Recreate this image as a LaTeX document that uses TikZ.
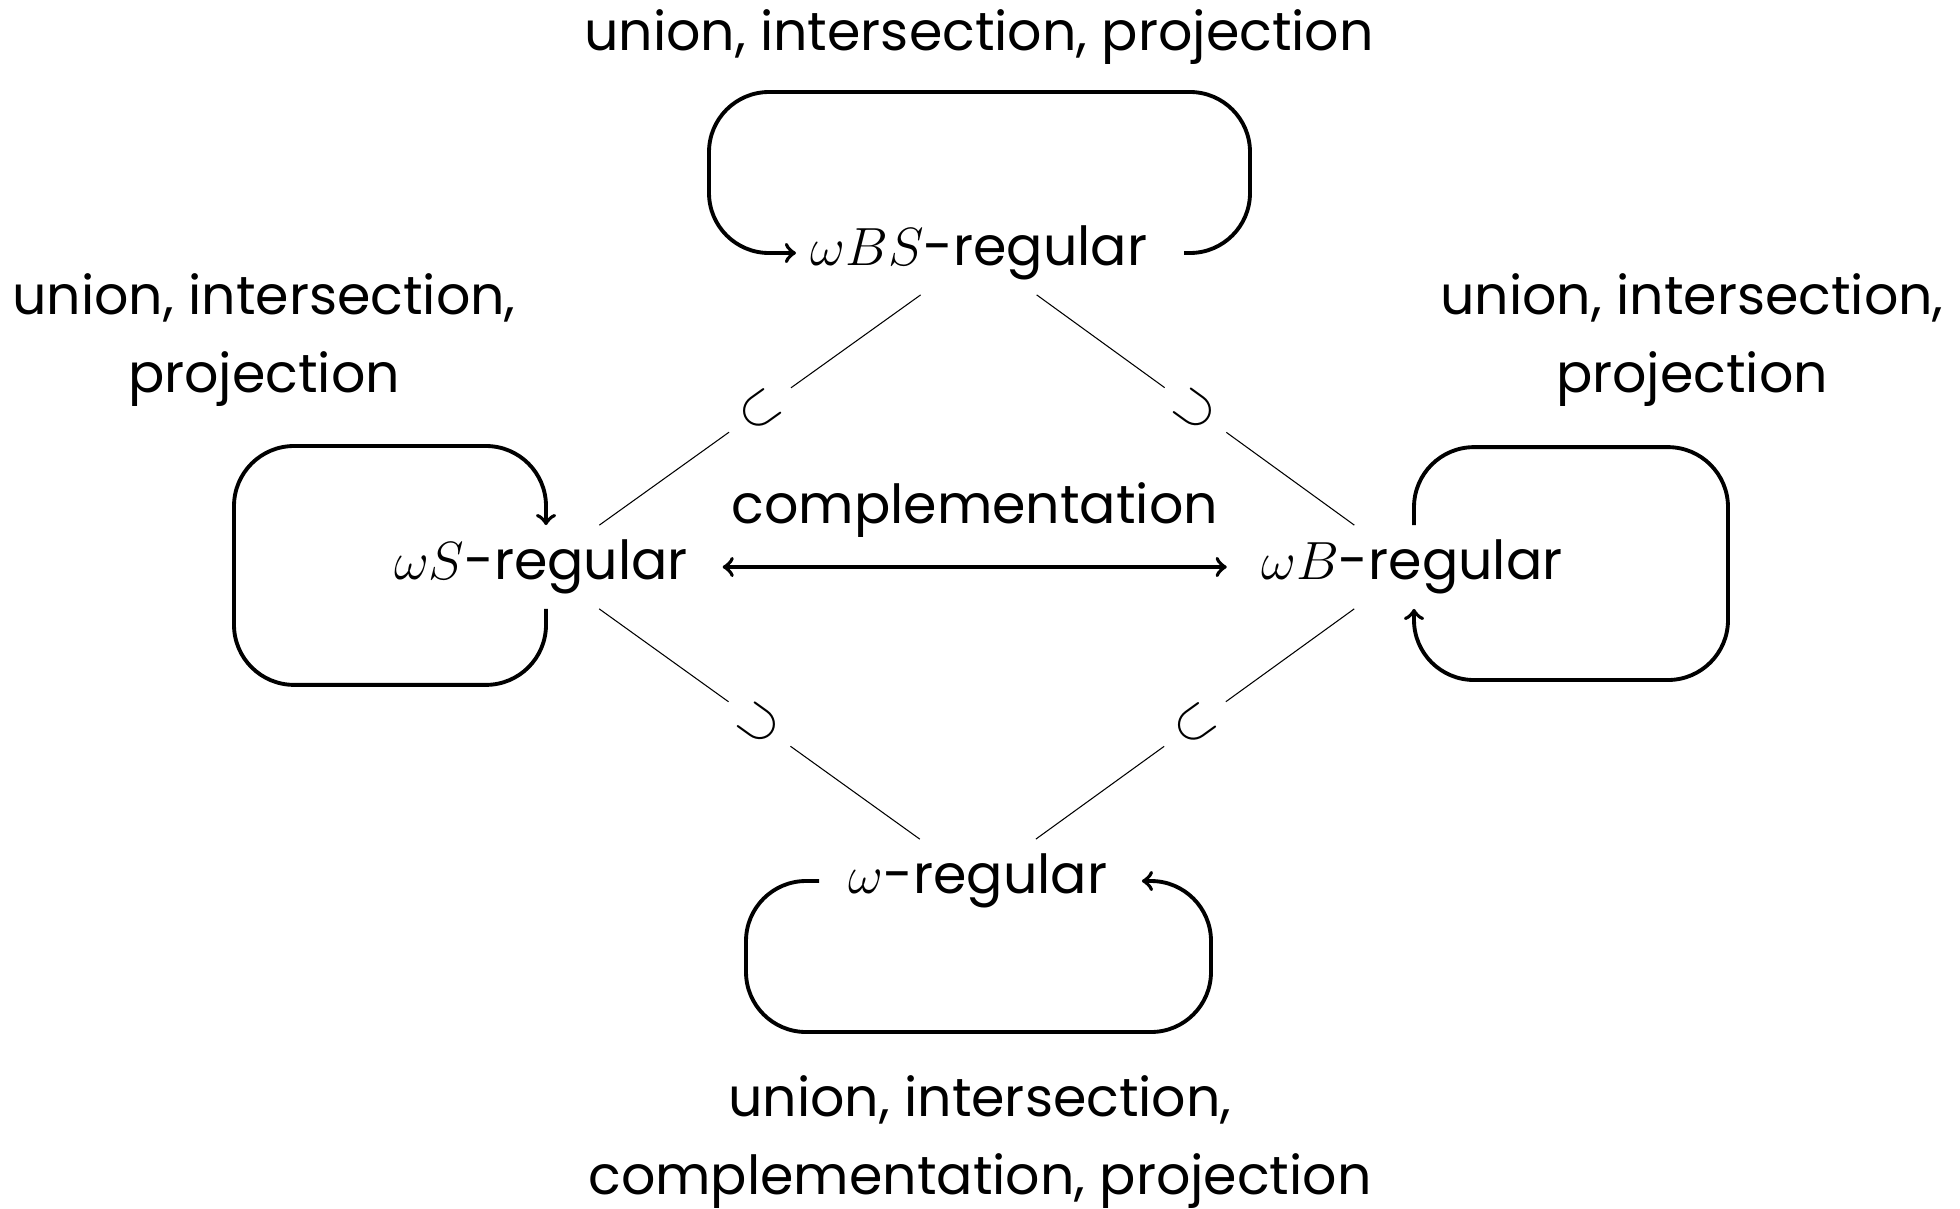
\RequirePackage{fix-cm}
\documentclass[tikz,border=0pt]{standalone}
\usepackage{fontspec}
\setmainfont{Poppins}
\usetikzlibrary{arrows}
\tikzstyle{lang} = [inner sep=0.14cm]
\tikzstyle{note} = [align=center]
\tikzstyle{closure} = [line width=1.1pt, ->, rounded corners=0.6cm]
\tikzstyle{arrow} = [line width=1.1pt, <->]
\tikzstyle{incl} = [line width=0.3pt]
\tikzstyle{sym} = [fill=white, sloped, inner sep=0.17cm]

\begin{document}
\begin{tikzpicture}[x=0.01cm, y=-0.01cm, font=\fontsize{15.3}{22}\selectfont]

\useasboundingbox (0, 0) rectangle (1960, 1209);

\node at (979, 253) (wBS) [lang] {$\omega BS$-regular};
\node at (541, 567) (wS) [lang] {$\omega S$-regular};
\node at (1412, 567) (wB) [lang] {$\omega B$-regular};
\node at (978, 881) (wreg) [lang] {$\omega$-regular};

\node at (979, 37) (topops) [note] {union, intersection, projection};
\node at (264, 340) (leftops) [note] {union, intersection,\\ projection};
\node at (1692, 340) (rightops) [note] {union, intersection,\\ projection};
\node at (980, 1142) (botops) [note] {union, intersection,\\ complementation, projection};

\draw [closure] ([xshift=0.22cm]wBS.east) -| (1250, 92) -| (709, 253) -- (wBS.west);
\draw [closure] ([xshift=0.05cm]wS.south) -- ++(0, 76) -| (234, 446) -| ([xshift=0.05cm]wS.north);
\draw [closure] ([xshift=0.02cm]wB.north) -- ++(0, -78) -| (1728, 680) -| ([xshift=0.02cm]wB.south);
\draw [closure] ([xshift=-0.15cm]wreg.west) -| (746, 1032) -| (1211, 881) -- ([xshift=0.2cm]wreg.east);

\draw [arrow, shorten >=0.2cm, shorten <=0.2cm] (wS) -- (wB) node [midway, above=0.16cm] {complementation};

\draw [incl] (wS) -- (wBS) node [midway, sym] {$\subset$};
\draw [incl] (wB) -- (wBS) node [midway, sym] {$\supset$};
\draw [incl] (wreg) -- (wS) node [midway, sym] {$\supset$};
\draw [incl] (wreg) -- (wB) node [midway, sym] {$\subset$};

\end{tikzpicture}
\end{document}
